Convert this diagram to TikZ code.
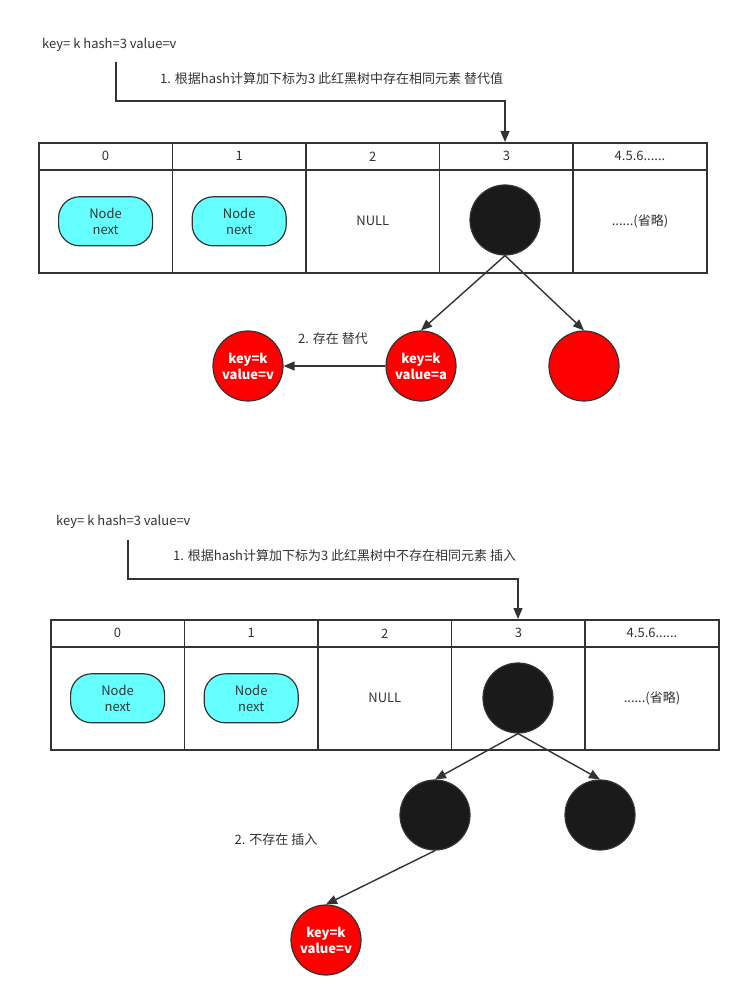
\documentclass[tikz,border=0pt]{standalone}
\usepackage{fontspec}
\setmainfont{Liberation Sans}
\newfontfamily\cjk{Noto Sans CJK SC}
\usetikzlibrary{arrows.meta,positioning}
\definecolor{ink}{HTML}{333333}
\definecolor{nodecyan}{HTML}{66FFFF}
\definecolor{rbred}{HTML}{FF0000}
\definecolor{rbblack}{HTML}{1A1A1A}
\tikzset{
  txt/.style={font=\cjk\fontsize{13}{16}\selectfont, text=ink, inner sep=0pt},
  hcell/.style={draw=ink, line width=1.6pt, minimum width=133.6pt, minimum height=27pt, inner sep=0pt, anchor=north west, font=\cjk\fontsize{13}{16}\selectfont, text=ink},
  bcell/.style={draw=ink, line width=1.6pt, minimum width=133.6pt, minimum height=103pt, inner sep=0pt, anchor=north west, font=\cjk\fontsize{13}{16}\selectfont, text=ink},
  listnode/.style={draw=ink, line width=1.2pt, fill=nodecyan, rounded corners=21pt, minimum width=94pt, minimum height=49pt, inner sep=0pt, align=center, font=\cjk\fontsize{13}{16.5}\selectfont, text=ink},
  blk/.style={circle, draw=ink, line width=1.2pt, fill=rbblack, minimum size=70pt, inner sep=0pt},
  rd/.style={circle, draw=ink, line width=1.2pt, fill=rbred, minimum size=70pt, inner sep=0pt, align=center, text=white, font=\cjk\bfseries\fontsize{13}{16}\selectfont},
  conn/.style={draw=ink, line width=1.4pt, -{Triangle[length=11pt,width=9pt]}},
}
\begin{document}
\begin{tikzpicture}[x=1pt,y=-1pt]
\useasboundingbox (0,0) rectangle (744,1000);
\fill[white] (0,0) rectangle (744,1000);

% ===== top diagram =====
\node[txt, anchor=west] (t1) at (42,45) {key= k hash=3 value=v};
\node[txt, anchor=west] (l1) at (160,79) {1. 根据hash计算加下标为3 此红黑树中存在相同元素 替代值};
\foreach \i/\lab in {0/0,1/1,2/2,3/3,4/{4.5.6......}} {
  \node[hcell] (ah\i) at (38+133.6*\i,142) {\lab};
  \node[bcell] (ab\i) at (38+133.6*\i,169) {};
}
\node[listnode] (an0) at (ab0.center) {Node\\next};
\node[listnode] (an1) at (ab1.center) {Node\\next};
\node[txt] (anull) at (ab2.center) {NULL};
\node[txt] (aomit) at (ab4.center) {......(省略)};
\node[blk] (aroot) at (505,220) {};
\node[rd] (aold) at (421,366) {key=k\\value=a};
\node[rd] (aright) at (584,366) {};
\node[rd] (anew) at (248,366) {key=k\\value=v};
\coordinate (as) at (116,62);
\draw[conn] (as) -- (116,101) -- (505,101) -- (ah3.north -| aroot);
\draw[conn] (aroot.south) -- (aold.north);
\draw[conn] (aroot.south) -- (aright.north);
\draw[conn] (aold.west) -- (anew.east);
\node[txt] (al2) at (333,339) {2. 存在 替代};

% ===== bottom diagram =====
\node[txt, anchor=west] (t2) at (56,522) {key= k hash=3 value=v};
\node[txt, anchor=west] (l2) at (173,556) {1. 根据hash计算加下标为3 此红黑树中不存在相同元素 插入};
\foreach \i/\lab in {0/0,1/1,2/2,3/3,4/{4.5.6......}} {
  \node[hcell] (bh\i) at (50+133.6*\i,619) {\lab};
  \node[bcell] (bb\i) at (50+133.6*\i,646) {};
}
\node[listnode] (bn0) at (bb0.center) {Node\\next};
\node[listnode] (bn1) at (bb1.center) {Node\\next};
\node[txt] (bnull) at (bb2.center) {NULL};
\node[txt] (bomit) at (bb4.center) {......(省略)};
\node[blk] (broot) at (518,698) {};
\node[blk] (bleft) at (435,815) {};
\node[blk] (bright) at (600,815) {};
\node[rd] (bnew) at (326,940) {key=k\\value=v};
\coordinate (bs) at (128,540);
\draw[conn] (bs) -- (128,579) -- (518,579) -- (bh3.north -| broot);
\draw[conn] (broot.south) -- (bleft.north);
\draw[conn] (broot.south) -- (bright.north);
\draw[conn] (bleft.south) -- (bnew.north);
\node[txt] (bl2) at (276,840) {2. 不存在 插入};
\end{tikzpicture}
\end{document}
